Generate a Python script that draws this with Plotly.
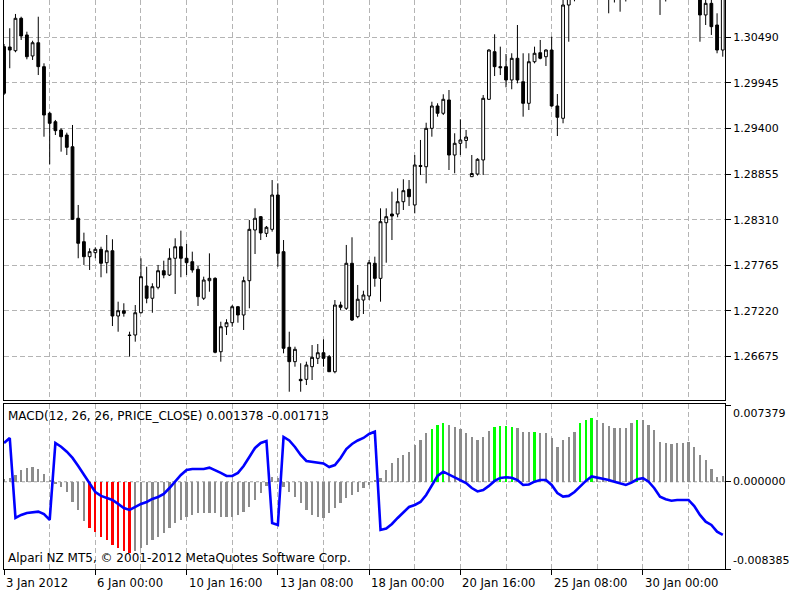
import plotly.graph_objects as go

# ---------------- data ----------------
tick_bars = [0, 16, 32, 48, 64, 80, 96, 112]
tick_labels = ["3 Jan 2012", "6 Jan 00:00", "10 Jan 16:00", "13 Jan 08:00",
               "18 Jan 00:00", "20 Jan 16:00", "25 Jan 08:00", "30 Jan 00:00"]
grid_bars = [8, 24, 40, 56, 72, 88, 104, 120]
price_ticks = [1.26675, 1.27220, 1.27765, 1.28310, 1.28855, 1.29400, 1.29945, 1.30490]
macd_ticks = [0.007379, 0.0, -0.008385]

opens = [1.30378, 1.30374, 1.30330, 1.30717, 1.30518, 1.30267, 1.30425, 1.30139, 1.29582, 1.29481,
         1.29382, 1.29322, 1.29182, 1.28327, 1.28047, 1.27868, 1.27916, 1.27956, 1.27796, 1.27939,
         1.27159, 1.27222, 1.26932, 1.26932, 1.27198, 1.27518, 1.27371, 1.27502, 1.27700, 1.27649,
         1.27849, 1.27987, 1.27849, 1.27808, 1.27717, 1.27371, 1.27581, 1.27609, 1.26732, 1.27031,
         1.27079, 1.27270, 1.27171, 1.27581, 1.28187, 1.28346, 1.28147, 1.28195, 1.28605, 1.27928,
         1.26785, 1.26613, 1.26402, 1.26402, 1.26553, 1.26653, 1.26720, 1.26673, 1.26493, 1.27290,
         1.27251, 1.27789, 1.27151, 1.27350, 1.27398, 1.27789, 1.27609, 1.28274, 1.28378, 1.28378,
         1.28525, 1.28673, 1.28486, 1.28958, 1.28943, 1.29402, 1.29669, 1.29582, 1.29741, 1.29083,
         1.29223, 1.29257, 1.28824, 1.28856, 1.29024, 1.29749, 1.30318, 1.30139, 1.30139, 1.29980,
         1.30239, 1.29959, 1.29701, 1.30198, 1.30306, 1.30258, 1.30338, 1.29669, 1.29522, 1.30876,
         1.31031, 1.31150, 1.31320, 1.31500, 1.31600, 1.31400, 1.31250, 1.31120, 1.31180, 1.31280,
         1.31420, 1.31580, 1.31700, 1.31650, 1.31480, 1.31300, 1.31180, 1.31250, 1.31200, 1.31280,
         1.31250, 1.31100, 1.31000, 1.30757, 1.30896, 1.30637, 1.30338]
highs = [1.30410, 1.30598, 1.30769, 1.30736, 1.30557, 1.30449, 1.30736, 1.30179, 1.29601, 1.29502,
         1.29402, 1.29350, 1.29442, 1.28486, 1.28155, 1.27968, 1.27980, 1.27987, 1.28127, 1.28076,
         1.27330, 1.27311, 1.26971, 1.27290, 1.27849, 1.27748, 1.27550, 1.27769, 1.27820, 1.27968,
         1.28088, 1.28179, 1.28020, 1.27928, 1.27757, 1.27629, 1.27908, 1.27622, 1.27091, 1.27120,
         1.27290, 1.27279, 1.27629, 1.28306, 1.28446, 1.28354, 1.28235, 1.28784, 1.28745, 1.28067,
         1.26971, 1.26792, 1.26594, 1.26613, 1.26812, 1.26824, 1.26880, 1.26693, 1.27350, 1.27330,
         1.28008, 1.28100, 1.27530, 1.27461, 1.27828, 1.27868, 1.28446, 1.28446, 1.28645, 1.28685,
         1.28793, 1.28784, 1.29083, 1.29263, 1.29469, 1.29720, 1.29701, 1.29809, 1.29860, 1.29343,
         1.29510, 1.29382, 1.29083, 1.29044, 1.29800, 1.30347, 1.30526, 1.30378, 1.30290, 1.30299,
         1.30637, 1.30299, 1.30299, 1.30378, 1.30458, 1.30347, 1.30497, 1.29812, 1.30972, 1.31175,
         1.31250, 1.31400, 1.31580, 1.31720, 1.31680, 1.31520, 1.31380, 1.31300, 1.31350, 1.31500,
         1.31650, 1.31780, 1.31820, 1.31720, 1.31600, 1.31420, 1.31350, 1.31400, 1.31380, 1.31450,
         1.31380, 1.31220, 1.31120, 1.30960, 1.30972, 1.30777, 1.30996]
lows = [1.29800, 1.30120, 1.30311, 1.30458, 1.30227, 1.30219, 1.30039, 1.29302, 1.28972, 1.29322,
        1.29123, 1.29083, 1.28306, 1.27849, 1.27769, 1.27709, 1.27849, 1.27622, 1.27669, 1.27039,
        1.26971, 1.27151, 1.26673, 1.26852, 1.27191, 1.27311, 1.27198, 1.27478, 1.27610, 1.27637,
        1.27422, 1.27622, 1.27649, 1.27677, 1.27279, 1.27350, 1.27449, 1.26713, 1.26613, 1.26932,
        1.27031, 1.27079, 1.26992, 1.27251, 1.27900, 1.28067, 1.28103, 1.28167, 1.27748, 1.26713,
        1.26254, 1.26553, 1.26254, 1.26334, 1.26394, 1.26585, 1.26553, 1.26490, 1.26474, 1.27231,
        1.27231, 1.27099, 1.27132, 1.27183, 1.27350, 1.27509, 1.27330, 1.27796, 1.28067, 1.28339,
        1.28426, 1.28474, 1.28386, 1.28844, 1.28745, 1.29302, 1.29541, 1.29561, 1.28904, 1.28865,
        1.29083, 1.29163, 1.28820, 1.28838, 1.28844, 1.29741, 1.30027, 1.30039, 1.29892, 1.29869,
        1.29940, 1.29541, 1.29621, 1.30179, 1.30227, 1.30147, 1.29661, 1.29310, 1.29462, 1.30437,
        1.30920, 1.31080, 1.31250, 1.31380, 1.31300, 1.31150, 1.30777, 1.30906, 1.30796, 1.30918,
        1.31300, 1.31480, 1.31550, 1.31400, 1.31250, 1.30757, 1.30918, 1.31100, 1.31080, 1.31150,
        1.31000, 1.30960, 1.30437, 1.30637, 1.30518, 1.30299, 1.30258]
closes = [1.29821, 1.30338, 1.30717, 1.30506, 1.30258, 1.30425, 1.30139, 1.29561, 1.29462, 1.29374,
          1.29302, 1.29175, 1.28315, 1.28028, 1.27868, 1.27928, 1.27956, 1.27789, 1.27939, 1.27159,
          1.27222, 1.27191, 1.26926, 1.27198, 1.27629, 1.27371, 1.27509, 1.27700, 1.27649, 1.27849,
          1.27987, 1.27849, 1.27796, 1.27709, 1.27390, 1.27589, 1.27609, 1.26725, 1.27031, 1.27079,
          1.27270, 1.27171, 1.27581, 1.28195, 1.28327, 1.28151, 1.28219, 1.28605, 1.27908, 1.26773,
          1.26613, 1.26761, 1.26386, 1.26573, 1.26665, 1.26720, 1.26653, 1.26493, 1.27290, 1.27263,
          1.27789, 1.27111, 1.27359, 1.27410, 1.27796, 1.27609, 1.28286, 1.28346, 1.28354, 1.28525,
          1.28657, 1.28585, 1.28964, 1.28946, 1.29402, 1.29669, 1.29582, 1.29749, 1.29083, 1.29223,
          1.29263, 1.29298, 1.28862, 1.29032, 1.29761, 1.30338, 1.30139, 1.30127, 1.29980, 1.30239,
          1.29980, 1.29701, 1.30198, 1.30299, 1.30239, 1.30338, 1.29669, 1.29534, 1.30876, 1.31031,
          1.31150, 1.31320, 1.31500, 1.31600, 1.31400, 1.31250, 1.31120, 1.31180, 1.31280, 1.31420,
          1.31580, 1.31700, 1.31650, 1.31480, 1.31300, 1.31180, 1.31250, 1.31200, 1.31280, 1.31250,
          1.31100, 1.31000, 1.30757, 1.30896, 1.30617, 1.30338, 1.30960]

macd_hist = [0.00030, 0.00040, 0.00065, 0.00113, 0.00132, 0.00142, 0.00123, 0.00075, 0.00017, -0.00021,
             -0.00050, -0.00098, -0.00194, -0.00271, -0.00377, -0.00444, -0.00483, -0.00530, -0.00559, -0.00607,
             -0.00636, -0.00665, -0.00684, -0.00665, -0.00636, -0.00607, -0.00559, -0.00530, -0.00492, -0.00444,
             -0.00396, -0.00367, -0.00338, -0.00319, -0.00300, -0.00300, -0.00300, -0.00300, -0.00338, -0.00338,
             -0.00338, -0.00319, -0.00290, -0.00242, -0.00175, -0.00108, -0.00040, 0.00046, 0.00037, -0.00050,
             -0.00095, -0.00143, -0.00204, -0.00271, -0.00319, -0.00335, -0.00348, -0.00300, -0.00252, -0.00204,
             -0.00156, -0.00127, -0.00095, -0.00060, -0.00031, 0.00010, 0.00037, 0.00113, 0.00181, 0.00229,
             0.00258, 0.00289, 0.00354, 0.00402, 0.00469, 0.00508, 0.00546, 0.00568, 0.00546, 0.00530,
             0.00508, 0.00469, 0.00434, 0.00402, 0.00434, 0.00491, 0.00524, 0.00536, 0.00536, 0.00530,
             0.00517, 0.00482, 0.00482, 0.00482, 0.00469, 0.00469, 0.00421, 0.00337, 0.00402, 0.00434,
             0.00479, 0.00565, 0.00594, 0.00613, 0.00594, 0.00565, 0.00536, 0.00517, 0.00517, 0.00517,
             0.00565, 0.00594, 0.00594, 0.00546, 0.00498, 0.00385, 0.00373, 0.00363, 0.00373, 0.00373,
             0.00385, 0.00337, 0.00258, 0.00210, 0.00123, 0.00049, 0.00056]
signal = [0.00373, 0.00421, -0.00348, -0.00319, -0.00300, -0.00290, -0.00287, -0.00310, -0.00367, 0.00373,
          0.00337, 0.00289, 0.00229, 0.00152, 0.00065, -0.00021, -0.00098, -0.00136, -0.00156, -0.00175,
          -0.00213, -0.00252, -0.00271, -0.00242, -0.00213, -0.00194, -0.00165, -0.00146, -0.00117, -0.00060,
          0.00008, 0.00065, 0.00113, 0.00123, 0.00123, 0.00123, 0.00136, 0.00113, 0.00085, 0.00056,
          0.00056, 0.00085, 0.00152, 0.00238, 0.00325, 0.00373, 0.00392, -0.00396, -0.00415, 0.00431,
          0.00397, 0.00334, 0.00258, 0.00200, 0.00190, 0.00186, 0.00176, 0.00142, 0.00161, 0.00229,
          0.00315, 0.00363, 0.00397, 0.00421, 0.00459, 0.00482, -0.00463, -0.00449, -0.00406, -0.00348,
          -0.00290, -0.00242, -0.00223, -0.00194, -0.00127, -0.00040, 0.00056, 0.00097, 0.00070, 0.00037,
          0.00017, -0.00012, -0.00060, -0.00093, -0.00079, -0.00040, 0.00008, 0.00037, 0.00043, 0.00039,
          0.00017, -0.00031, -0.00026, 0.00001, 0.00017, 0.00017, -0.00031, -0.00108, -0.00143, -0.00136,
          -0.00098, -0.00040, 0.00008, 0.00051, 0.00041, 0.00027, 0.00017, 0.00001, -0.00014, -0.00031,
          -0.00009, 0.00024, 0.00034, 0.00001, -0.00062, -0.00143, -0.00168, -0.00182, -0.00175, -0.00175,
          -0.00175, -0.00233, -0.00319, -0.00384, -0.00415, -0.00480, -0.00511]
red_bars = [15, 16, 17, 18, 19, 20, 21, 22]
green_bars = [75, 76, 77, 86, 87, 88, 89, 93, 101, 102, 103, 111]

title_text = "MACD(12, 26, 26, PRICE_CLOSE) 0.001378 -0.001713"
copyright_text = "Alpari NZ MT5, \u00a9 2001-2012 MetaQuotes Software Corp."

# ---------------- figure ----------------
FONT = dict(family="DejaVu Sans", size=11, color="black")
FONT_X = dict(family="DejaVu Sans", size=11.6, color="black")
FONT_T = dict(family="DejaVu Sans", size=12, color="black")
GRID = "#B4B4B4"
DASH = "5px,3px"

bars = list(range(len(opens)))
hist_colors = ["#FF0000" if i in red_bars else "#00FF00" if i in green_bars else "#8C8C8C"
               for i in bars]

fig = go.Figure()
fig.add_trace(go.Candlestick(
    x=bars, open=opens, high=highs, low=lows, close=closes,
    increasing=dict(fillcolor="white", line=dict(color="black", width=1)),
    decreasing=dict(fillcolor="black", line=dict(color="black", width=1)),
    whiskerwidth=0, xaxis="x", yaxis="y", showlegend=False, hoverinfo="skip"))
fig.add_trace(go.Bar(
    x=bars, y=macd_hist, width=0.4,
    marker=dict(color=hist_colors, line=dict(width=0)),
    xaxis="x2", yaxis="y2", showlegend=False, hoverinfo="skip"))
fig.add_trace(go.Scatter(
    x=bars, y=signal, mode="lines", line=dict(color="#0000FF", width=2.6),
    xaxis="x2", yaxis="y2", showlegend=False, hoverinfo="skip"))

xr = [-0.01, 126.39]
fig.update_layout(
    width=800, height=600,
    margin=dict(l=4, r=75, t=0, b=31),
    paper_bgcolor="white", plot_bgcolor="white",
    font=FONT, showlegend=False, bargap=0,
    xaxis=dict(domain=[0, 1], anchor="y", range=xr, tickvals=grid_bars + tick_bars,
               showticklabels=False, ticks="", showgrid=True, gridcolor=GRID,
               griddash=DASH, gridwidth=1, showline=True, linecolor="black",
               linewidth=1, mirror=False, zeroline=False,
               rangeslider=dict(visible=False)),
    yaxis=dict(domain=[0.29701, 1], anchor="x", side="right",
               range=[1.26155, 1.309358], tickvals=price_ticks,
               ticktext=[f"{v:.5f}" for v in price_ticks],
               ticks="outside", ticklen=5, tickcolor="black", tickfont=FONT,
               showgrid=True, gridcolor=GRID, griddash=DASH, gridwidth=1,
               showline=True, mirror=True, linecolor="black", linewidth=1,
               zeroline=False),
    xaxis2=dict(domain=[0, 1], anchor="y2", range=xr, tickvals=tick_bars,
                showticklabels=False, ticks="outside", ticklen=5, tickcolor="black",
                showgrid=True, gridcolor=GRID, griddash=DASH, gridwidth=1,
                minor=dict(tickvals=grid_bars, showgrid=True, gridcolor=GRID,
                           griddash=DASH, ticks=""),
                showline=True, mirror=True, linecolor="black", linewidth=1,
                zeroline=False),
    yaxis2=dict(domain=[0, 0.28998], anchor="x2", side="right",
                range=[-0.008385, 0.007475], tickvals=macd_ticks,
                showticklabels=False, ticks="outside", ticklen=5, tickcolor="black",
                showgrid=False, showline=True, mirror=True, linecolor="black",
                linewidth=1, zeroline=False),
)

# zero level of the MACD window
fig.add_shape(type="line", xref="x2 domain", x0=0, x1=1, yref="y2", y0=0, y1=0,
              line=dict(color="#A0A0A0", width=1, dash="3px,3px"), layer="below")

annotations = []
for b, lab in zip(tick_bars, tick_labels):
    annotations.append(dict(x=b, xref="x2", y=0, yref="paper", text=lab,
                            xanchor="left", yanchor="top", yshift=-5,
                            showarrow=False, font=FONT_X))
anchors = ["top", "middle", "bottom"]
for v, anc in zip(macd_ticks, anchors):
    annotations.append(dict(x=1, xref="paper", y=v, yref="y2", text=f"{v:.6f}",
                            xanchor="left", yanchor=anc, xshift=6,
                            showarrow=False, font=FONT))
annotations.append(dict(x=0, xref="paper", y=0.28998, yref="paper", text=title_text,
                        xanchor="left", yanchor="top", xshift=2, yshift=-3,
                        showarrow=False, font=FONT_T))
annotations.append(dict(x=0, xref="paper", y=0, yref="paper", text=copyright_text,
                        xanchor="left", yanchor="bottom", xshift=2, yshift=2,
                        showarrow=False, font=FONT_T))
fig.update_layout(annotations=annotations)

fig.write_html("out.html")
